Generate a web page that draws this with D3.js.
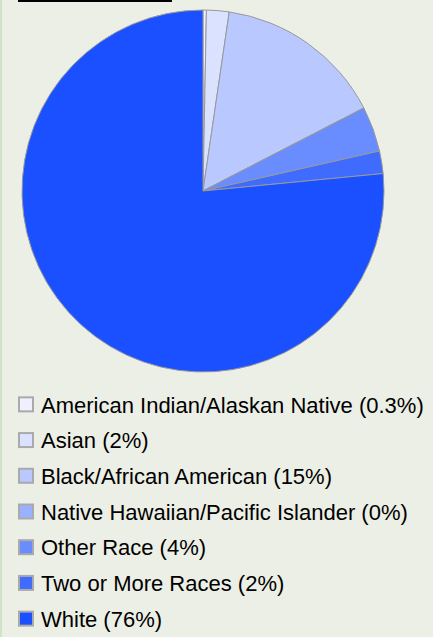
<!DOCTYPE html>
<html>
<head>
<meta charset="utf-8">
<script src="https://cdn.jsdelivr.net/npm/d3@7"></script>
<style>
  body { margin: 0; background: #ecefe5; }
  svg { display: block; }
</style>
</head>
<body>
<script>
// chart size
var svgWidth = 433;
var svgHeight = 637;

// data
var categories = [
  "American Indian/Alaskan Native",
  "Asian",
  "Black/African American",
  "Native Hawaiian/Pacific Islander",
  "Other Race",
  "Two or More Races",
  "White"
];
var shares = [0.3, 2, 15, 0, 4, 2, 76];
var shareLabels = ["0.3%", "2%", "15%", "0%", "4%", "2%", "76%"];
var sliceColors = ["#eef0ff", "#dae2ff", "#b9c8ff", "#9bb0ff", "#698cff", "#3f6cff", "#1a50ff"];

var svg = d3.select("body")
  .append("svg")
  .attr("width", svgWidth)
  .attr("height", svgHeight);

// left border strip
svg.append("rect")
  .attr("x", 0).attr("y", 0)
  .attr("width", 2).attr("height", svgHeight)
  .attr("fill", "#cfe3c6");

// clipped title underline at top
svg.append("rect")
  .attr("x", 18).attr("y", 0)
  .attr("width", 154).attr("height", 2)
  .attr("fill", "#000");

var color = d3.scaleOrdinal()
  .domain(categories)
  .range(sliceColors);

// pie
var radius = 181;
var pieGroup = svg.append("g")
  .attr("transform", "translate(203, 191)");

var pie = d3.pie()
  .sort(null)
  .value(d => d.value);

var arc = d3.arc()
  .innerRadius(0)
  .outerRadius(radius);

var pieData = categories.map((c, i) => ({ name: c, value: shares[i] }));

pieGroup.selectAll("path")
  .data(pie(pieData))
  .enter()
  .append("path")
  .attr("d", arc)
  .attr("fill", d => color(d.data.name))
  .attr("stroke", "#999")
  .attr("stroke-width", 1);

// legend
var legendY = d3.scaleBand()
  .domain(categories)
  .range([387, 637]);

var legend = svg.append("g");

var rows = legend.selectAll("g")
  .data(categories)
  .enter()
  .append("g")
  .attr("transform", d => `translate(0, ${legendY(d) + legendY.bandwidth() / 2})`);

rows.append("rect")
  .attr("x", 19)
  .attr("y", -7.5)
  .attr("width", 14)
  .attr("height", 14)
  .attr("fill", d => color(d))
  .attr("stroke", "#aaa")
  .attr("stroke-width", 2);

rows.append("text")
  .attr("x", 41)
  .attr("y", 0)
  .attr("dy", "0.35em")
  .attr("font-family", "Liberation Sans, Arial, sans-serif")
  .attr("font-size", 22)
  .attr("fill", "#000")
  .text((d, i) => `${d} (${shareLabels[i]})`);
</script>
</body>
</html>
